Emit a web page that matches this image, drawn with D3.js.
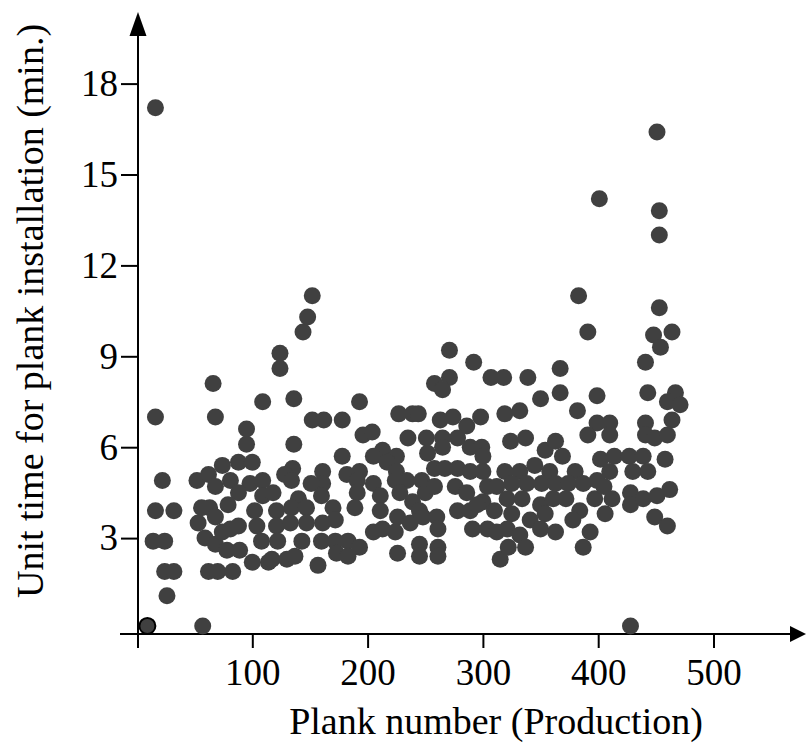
<!DOCTYPE html>
<html>
<head>
<meta charset="utf-8">
<script src="https://cdn.jsdelivr.net/npm/d3@7"></script>
<style>
  body { margin: 0; background: #fff; }
  text { font-family: "Liberation Serif", "Times New Roman", serif; }
</style>
</head>
<body>
<svg id="chart" width="806" height="744"></svg>
<script>
// plank number (x) and unit time in minutes (y)
const plankNo = [
  16, 66, 68, 109, 95, 95, 124, 124, 22, 16, 32, 14, 24, 24, 32, 26, 52, 62, 74, 68,
  81, 88, 100, 98, 109, 88, 79, 56, 63, 68, 53, 59, 68, 74, 81, 88, 78, 89, 100, 114,
  104, 108, 102, 109, 62, 70, 83, 57, 16,
  144, 148, 152, 136, 193, 152, 162, 178, 196, 204, 136, 178, 135, 128, 134, 161, 161, 151, 182, 193,
  191, 191, 160, 140, 118, 121, 134, 147, 170, 189, 121, 133, 147, 161, 172, 122, 143, 160, 172, 183,
  193, 173, 183, 117, 130, 137, 157,
  271, 292, 307, 271, 258, 265, 227, 239, 244, 263, 274, 298, 286, 278, 235, 251, 265, 265, 252, 289,
  299, 300, 213, 225, 205, 217, 225, 258, 267, 278, 289, 300, 234, 224, 205, 211, 228, 247, 250, 258,
  276, 286, 304, 300, 310, 312, 239, 211, 226, 237, 245, 248, 260, 278, 289, 295, 261, 291, 304, 312,
  205, 213, 224, 245, 245, 261, 261, 226, 315,
  318, 339, 319, 332, 350, 324, 337, 354, 363, 319, 332, 345, 358, 325, 338, 351, 363, 321, 334, 350,
  361, 325, 341, 354, 321, 332, 350, 363, 322, 337,
  369, 380, 374, 387, 399, 410, 372, 384, 397, 406, 378, 393, 387, 402, 414, 405, 412,
  427, 430, 428, 428, 439, 443, 439, 451, 449, 460, 462, 458,
  451, 401, 453, 453, 383, 453, 391, 448, 464, 454, 441, 367, 367, 443, 467, 460, 471, 399, 382, 464,
  399, 410, 441, 391, 410, 441, 449, 460, 428
];
const unitTime = [
  7.0, 8.1, 7.0, 7.5, 6.6, 6.1, 9.1, 8.6, 4.9, 3.9, 3.9, 2.9, 2.9, 1.9, 1.9, 1.1, 4.9, 5.1, 5.4, 4.7,
  4.9, 5.5, 5.5, 4.8, 4.9, 4.5, 4.1, 4.0, 4.0, 3.7, 3.5, 3.0, 2.8, 3.2, 3.3, 3.4, 2.6, 2.6, 2.2, 2.2,
  3.4, 2.9, 3.9, 4.4, 1.9, 1.9, 1.9, 0.1, 17.2,
  9.8, 10.3, 11.0, 7.6, 7.5, 6.9, 6.9, 6.9, 6.4, 6.5, 6.1, 5.7, 5.3, 5.1, 4.9, 5.2, 4.8, 4.8, 5.1, 5.2,
  4.9, 4.5, 4.4, 4.3, 4.5, 3.9, 4.0, 4.0, 4.0, 4.0, 3.4, 3.5, 3.5, 3.5, 3.6, 2.9, 2.9, 2.9, 2.9, 2.9,
  2.7, 2.5, 2.4, 2.3, 2.3, 2.4, 2.1,
  9.2, 8.8, 8.3, 8.3, 8.1, 7.9, 7.1, 7.1, 7.1, 6.9, 7.0, 7.0, 6.7, 6.3, 6.3, 6.3, 6.3, 6.0, 5.8, 6.0,
  6.0, 5.7, 5.9, 5.7, 5.7, 5.5, 5.2, 5.3, 5.3, 5.3, 5.2, 5.2, 4.9, 4.9, 4.8, 4.4, 4.5, 4.9, 4.5, 4.7,
  4.7, 4.5, 4.7, 4.2, 3.9, 4.7, 4.2, 3.9, 3.7, 3.5, 3.9, 3.7, 3.7, 3.9, 3.9, 4.1, 3.3, 3.3, 3.3, 3.2,
  3.2, 3.3, 3.2, 2.8, 2.4, 2.7, 2.4, 2.5, 2.3,
  8.3, 8.3, 7.1, 7.2, 7.6, 6.2, 6.3, 5.9, 6.2, 5.2, 5.2, 5.4, 5.2, 4.8, 4.8, 4.8, 4.8, 4.3, 4.3, 4.1,
  4.3, 3.8, 3.6, 3.8, 3.3, 3.1, 3.3, 3.2, 2.7, 2.7,
  5.7, 5.2, 4.8, 4.8, 4.9, 5.2, 4.3, 3.9, 4.3, 3.8, 3.6, 3.2, 2.7, 5.6, 5.7, 4.7, 4.3,
  5.7, 5.2, 4.5, 4.1, 5.7, 5.2, 4.3, 4.4, 3.7, 3.4, 4.6, 5.6,
  16.4, 14.2, 13.8, 13.0, 11.0, 10.6, 9.8, 9.7, 9.8, 9.3, 8.8, 8.6, 7.8, 7.8, 7.8, 7.5, 7.4, 7.7, 7.2, 6.9,
  6.8, 6.8, 6.8, 6.4, 6.4, 6.4, 6.3, 6.4, 0.1
];
const xTicks = [100, 200, 300, 400, 500];
const yTicks = [3, 6, 9, 12, 15, 18];
const outlinedPoint = { x: 9, y: 0.1 }; // the first plank, drawn with a black ring

const svg = d3.select("#chart");

const x = d3.scaleLinear().domain([0, 500]).range([137, 713.5]);
const y = d3.scaleLinear().domain([0, 18]).range([629, 83.6]);
const axisY = 634;
const tickFont = 37;
const titleFont = 38;

/* ------- AXES -------*/
svg.append("g")
  .attr("transform", `translate(0,${axisY})`)
  .call(d3.axisBottom(x).tickValues(xTicks).tickSize(14).tickPadding(11))
  .call(g => g.select(".domain").remove())
  .call(g => g.selectAll("line").attr("stroke", "#000").attr("stroke-width", 2))
  .call(g => g.selectAll("text").attr("font-size", tickFont).attr("fill", "#000")
    .attr("font-family", "Liberation Serif, serif"));

svg.append("g")
  .attr("transform", `translate(${x(0) + 1},0)`)
  .call(d3.axisLeft(y).tickValues(yTicks).tickSize(17).tickPadding(3))
  .call(g => g.select(".domain").remove())
  .call(g => g.selectAll("line").attr("stroke", "#000").attr("stroke-width", 2))
  .call(g => g.selectAll("text").attr("font-size", tickFont).attr("fill", "#000")
    .attr("font-family", "Liberation Serif, serif"));

// axis lines with arrow heads
svg.append("line")
  .attr("x1", 120).attr("x2", 793)
  .attr("y1", axisY).attr("y2", axisY)
  .attr("stroke", "#000").attr("stroke-width", 2);
svg.append("path")
  .attr("d", `M806,${axisY} L790,${axisY - 8} L790,${axisY + 8} Z`)
  .attr("fill", "#000");

svg.append("line")
  .attr("x1", x(0) + 1).attr("x2", x(0) + 1)
  .attr("y1", 30).attr("y2", 648)
  .attr("stroke", "#000").attr("stroke-width", 2);
svg.append("path")
  .attr("d", `M${x(0) + 1},12 L${x(0) - 7.5},36 L${x(0) + 9.5},36 Z`)
  .attr("fill", "#000");

/* ------- POINTS -------*/
const points = plankNo.map((p, i) => ({ x: p, y: unitTime[i] }));

svg.append("g")
  .selectAll("circle")
  .data(points)
  .enter()
  .append("circle")
  .attr("cx", d => x(d.x))
  .attr("cy", d => y(d.y))
  .attr("r", 8.5)
  .attr("fill", "#404040");

svg.append("circle")
  .attr("cx", x(outlinedPoint.x))
  .attr("cy", y(outlinedPoint.y))
  .attr("r", 8)
  .attr("fill", "#404040")
  .attr("stroke", "#000")
  .attr("stroke-width", 2);

/* ------- TITLES -------*/
svg.append("text")
  .attr("x", 496).attr("y", 734)
  .attr("text-anchor", "middle")
  .attr("font-size", titleFont)
  .text("Plank number (Production)");

svg.append("text")
  .attr("transform", "translate(43,311) rotate(-90)")
  .attr("text-anchor", "middle")
  .attr("font-size", titleFont)
  .text("Unit time for plank installation (min.)");
</script>
</body>
</html>
